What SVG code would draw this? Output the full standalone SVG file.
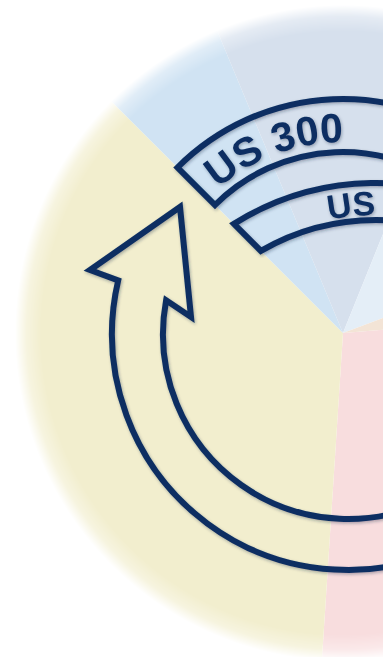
<svg xmlns="http://www.w3.org/2000/svg" width="383" height="657" viewBox="0 0 383 657">
  <defs>
    <radialGradient id="fade" gradientUnits="userSpaceOnUse" cx="343" cy="333" r="328">
      <stop offset="0" stop-color="#fff" stop-opacity="1"/>
      <stop offset="0.92" stop-color="#fff" stop-opacity="1"/>
      <stop offset="0.965" stop-color="#fff" stop-opacity="0.65"/>
      <stop offset="1" stop-color="#fff" stop-opacity="0"/>
    </radialGradient>
    <mask id="wheelMask" maskUnits="userSpaceOnUse" x="0" y="0" width="383" height="657">
      <rect x="0" y="0" width="383" height="657" fill="url(#fade)"/>
    </mask>
    <filter id="shadow" x="-10%" y="-10%" width="120%" height="120%">
      <feDropShadow dx="1" dy="1.5" stdDeviation="1.5" flood-color="#1a2a40" flood-opacity="0.35"/>
    </filter>
    <path id="outerTextPath" d="M163.5,267.7 A191 191 0 0 1 522.5,267.7"/>
    <path id="innerTextPath" d="M155.2,369.6 A235 235 0 0 1 596.8,369.6"/>
  </defs>
  <style>
    .outline { fill: none; stroke: #0b2f62; stroke-width: 6; stroke-linejoin: miter; }
    .label { font-family: "Liberation Sans", Arial, sans-serif; font-weight: bold; fill: #0b2f62; }
  </style>

  <g id="wheel" mask="url(#wheelMask)">
    <path id="sector-pink" d="M343,333 L681.9,306.3 A340 340 0 0 1 321.1,672.3 Z" fill="#f8ddde"/>
    <path id="sector-yellow" d="M343,333 L321.1,672.3 A340 340 0 0 1 102.6,92.6 Z" fill="#f2eece"/>
    <path id="sector-lightblue" d="M343,333 L102.6,92.6 A340 340 0 0 1 212.3,19.1 Z" fill="#d0e3f3"/>
    <path id="sector-grayblue" d="M343,333 L212.3,19.1 A340 340 0 0 1 470.4,17.8 Z" fill="#d6e0ed"/>
    <path id="sector-paleblue" d="M343,333 L470.4,17.8 A340 340 0 0 1 661.5,213.9 Z" fill="#e4eef7"/>
    <path id="sector-beige" d="M343,333 L661.5,213.9 A340 340 0 0 1 681.9,306.3 Z" fill="#f3e4d6"/>
  </g>

  <g id="band-us300" filter="url(#shadow)">
    <path class="outline" d="M177.5,167.5 A234 234 0 0 1 493.4,153.7 L459.3,194.3 A181 181 0 0 0 215,205 Z"/>
    <text class="label" font-size="41"><textPath href="#outerTextPath" startOffset="97">US 300</textPath></text>
  </g>

  <g id="band-us" filter="url(#shadow)">
    <path class="outline" d="M233.9,223.9 A267 267 0 0 1 509.5,218.8 L491,250.8 A230 230 0 0 0 260.9,250.9 Z"/>
    <text class="label" font-size="34" text-anchor="middle"><textPath href="#innerTextPath" startOffset="263">US</textPath></text>
  </g>

  <g id="connectors">
    <path id="cycle-arrow" class="outline" filter="url(#shadow)" d="M466,538.4 A236 236 0 0 1 118.2,280.4 L90,270 L180,207 L191,317 L166.1,300.3 A185 185 0 0 0 440.5,494.2 Z"/>
  </g>
</svg>
